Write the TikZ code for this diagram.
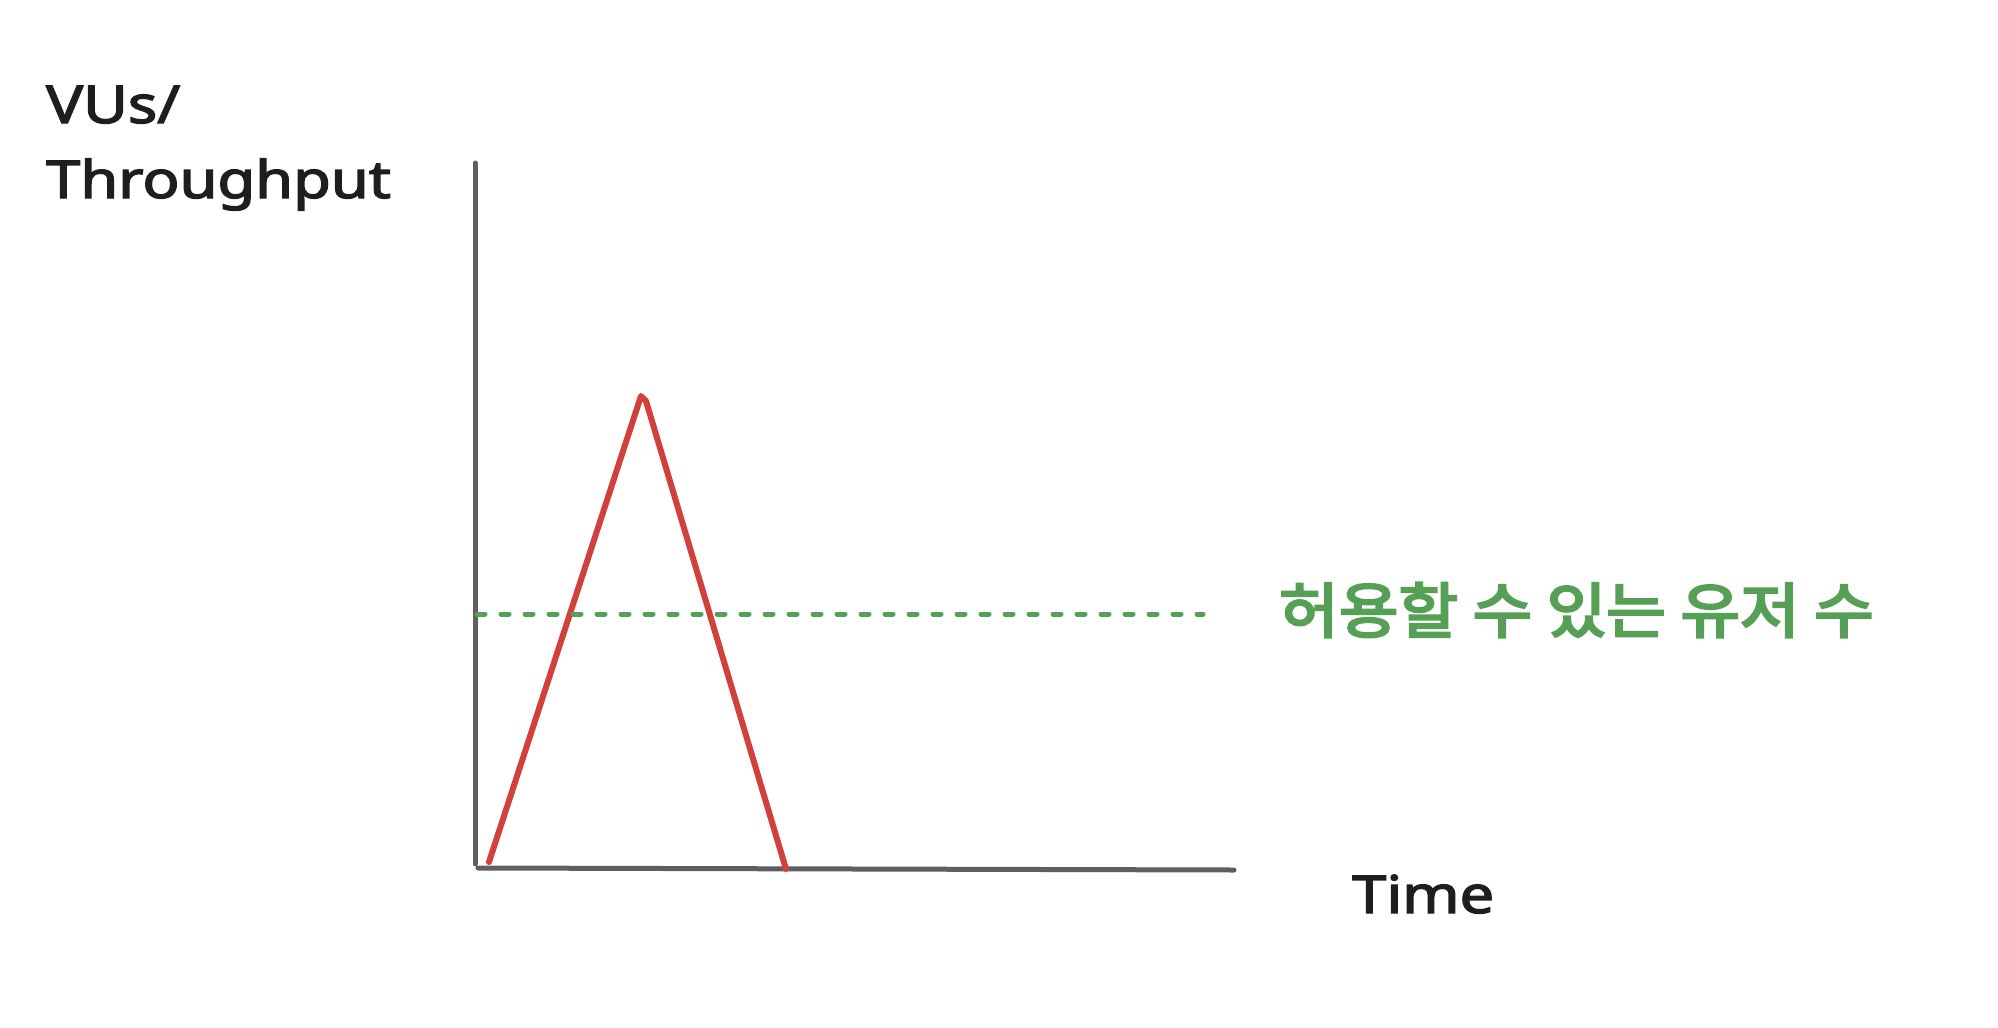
\documentclass[tikz,border=0pt]{standalone}
\usepackage{fontspec}
\setmainfont{Noto Sans}
\newfontfamily\inkfont{Noto Sans}[FakeBold=2.5]
\newfontfamily\krfont{Noto Sans CJK KR}[FakeBold=4]
\definecolor{axisgray}{HTML}{5F5F5F}
\definecolor{peakred}{HTML}{D1403A}
\definecolor{limitgreen}{HTML}{55A055}
\definecolor{inkblack}{HTML}{1E1E1E}
\begin{document}
\begin{tikzpicture}[x=1pt,y=-1pt,
  axisline/.style={draw=axisgray,line width=5pt,line cap=round,line join=round},
  peakline/.style={draw=peakred,line width=6pt,line cap=round,line join=round},
  limitline/.style={draw=limitgreen,line width=5pt,line cap=round,dash pattern=on 8pt off 16pt},
  axislabel/.style={text=inkblack,inner sep=0pt,anchor=base west,font=\inkfont\fontsize{52}{56}\selectfont},
  limitlabel/.style={text=limitgreen,inner sep=0pt,anchor=west,font=\krfont\fontsize{60}{64}\selectfont}]
\useasboundingbox (0,0) rectangle (1998,1028);
% axes
\coordinate (ytop) at (475,163);
\coordinate (origin) at (475,864);
\coordinate (xstart) at (478,868);
\coordinate (xend) at (1234,870);
\draw[axisline] (ytop) -- (origin);
\draw[axisline] (xstart) -- (xend);
% peak
\coordinate (p0) at (489,862);
\coordinate (p1) at (641,396);
\coordinate (p2) at (646,401);
\coordinate (p3) at (786,869);
\draw[peakline] (p0) -- (p1) -- (p2) -- (p3);
% limit
\coordinate (l0) at (477,614);
\coordinate (l1) at (1203,614);
\draw[limitline] (l0) -- (l1);
% labels
\node[axislabel,xscale=1.18] (vus) at (46,123) {VUs/};
\node[axislabel,xscale=1.18] (thr) at (46,198) {Throughput};
\node[axislabel,xscale=1.18] (time) at (1352,913) {Time};
\node[limitlabel,xscale=1.08] (lim) at (1279,610) {허용할 수 있는 유저 수};
\end{tikzpicture}
\end{document}
